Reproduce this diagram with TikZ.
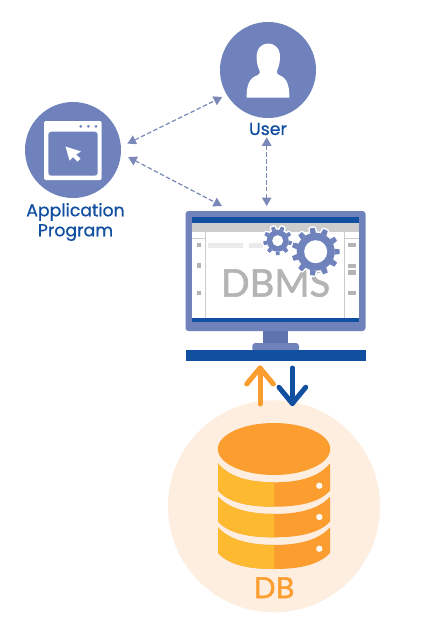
\documentclass[tikz,border=0pt]{standalone}
\usepackage{fontspec}
\setmainfont{Poppins}[FakeBold=0.7]
\newfontfamily\dbfont{Lato}[FakeBold=1.6]
\usetikzlibrary{arrows.meta}
\definecolor{periw}{HTML}{6F82BC}
\definecolor{periwd}{HTML}{5F74AE}
\definecolor{dashc}{HTML}{7A88B8}
\definecolor{navy}{HTML}{114FA0}
\definecolor{peach}{HTML}{FDEEDF}
\definecolor{orangeA}{HTML}{FC9D30}
\definecolor{yellowA}{HTML}{FDB930}
\definecolor{greyA}{HTML}{B4B4B4}
\definecolor{greyB}{HTML}{CCCCCC}
\definecolor{greyC}{HTML}{EBEBEB}
\tikzset{
  x=1pt,y=-1pt,
  disc/.style={circle,fill=periw,minimum size=96pt,inner sep=0pt},
  lbl/.style={font=\fontsize{17.3}{20}\selectfont,text=navy,align=center,inner sep=0pt},
  dashlink/.style={draw=dashc,line width=1.2pt,dash pattern=on 4.5pt off 2.4pt,
    {Triangle[width=9.5pt,length=8.5pt]}-{Triangle[width=9.5pt,length=8.5pt]}},
  bigarrow/.style={line width=5pt,line cap=round,line join=round},
}
% section of the cylinder: top edge, top centre, bottom edge, bottom centre
\newcommand{\cylsec}[4]{%
  \def\cylpath{(218,#1) .. controls (230,#2-4) and (252,#2) .. (274,#2)
    .. controls (296,#2) and (318,#2-4) .. (330,#1) -- (330,#3)
    .. controls (318,#4-3) and (296,#4) .. (274,#4)
    .. controls (252,#4) and (230,#4-3) .. (218,#3) -- cycle}%
  \fill[orangeA] \cylpath;
  \begin{scope}\clip (210,#1-5) rectangle (274,#4+5);\fill[yellowA] \cylpath;\end{scope}
}
\newcommand{\mygear}[7]{% x y rootr outerr teeth hole phase
  \begin{scope}[shift={(#1,#2)}]
    \foreach \k in {1,...,#5}{
      \pgfmathsetmacro{\a}{#7+\k*360/#5}
      \pgfmathsetmacro{\w}{90/#5}
      \filldraw[draw=white,fill=white,line width=3pt,line join=round] (\a-\w*1.1:#3) -- (\a-\w*.7:#4) -- (\a+\w*.7:#4) -- (\a+\w*1.1:#3) -- cycle;
    }
    \fill[white] (0,0) circle (#3+1.5);
    \foreach \k in {1,...,#5}{
      \pgfmathsetmacro{\a}{#7+\k*360/#5}
      \pgfmathsetmacro{\w}{90/#5}
      \fill[periw,line join=round] (\a-\w*1.1:#3) -- (\a-\w*.7:#4) -- (\a+\w*.7:#4) -- (\a+\w*1.1:#3) -- cycle;
    }
    \fill[periw] (0,0) circle (#3);
    \fill[white] (0,0) circle (#6);
  \end{scope}
}
\begin{document}
\begin{tikzpicture}
\useasboundingbox (0,0) rectangle (435,626);
\fill[white] (0,0) rectangle (435,626);

% user
\node[disc] (user) at (268,70) {};
\fill[white] (246.7,97.7) .. controls (246.5,85) and (249,78) .. (258,75)
  .. controls (259.5,74.5) and (260,72.5) .. (259.5,70.5)
  .. controls (257.5,67) and (256.6,61) .. (256.6,57)
  .. controls (256.6,48) and (262,43.5) .. (268.3,43.5)
  .. controls (274.5,43.5) and (280,48) .. (280,57)
  .. controls (280,61) and (279,67) .. (277,70.5)
  .. controls (276.5,72.5) and (277,74.5) .. (279,75)
  .. controls (287,78) and (289.5,85) .. (289.3,97.7) -- cycle;
\node[lbl] (ulabel) at (268,129) {User};

% application
\node[disc] (app) at (73,150) {};
\fill[white,rounded corners=2pt] (44,121) rectangle (101.7,180);
\fill[periw,rounded corners=3pt] (48.3,131.7) rectangle (97.7,175.7);
\foreach \x in {80.7,88.3,96}{\fill[periw] (\x,126.3) circle (1.5);}
\fill[white,line join=round] (65.5,146.5) -- (81,151.5) -- (76,154.5) -- (80.5,158.5) -- (77.5,161.5) -- (73,157) -- (69.5,160.5) -- cycle;
\node[lbl] (alabel) at (75.5,222) {Application\\Program};

% monitor
\node[fill=periw,rounded corners=3pt,minimum width=180pt,minimum height=120pt,inner sep=0pt] (monitor) at (275.5,271) {};
\coordinate (ma) at (222,206);
\coordinate (mb) at (266.7,206);
\fill[periwd] (262.7,331) rectangle (288.3,344);
\fill[periw,rounded corners=3pt] (252.3,343) rectangle (299,352);
\fill[navy] (185.5,350) rectangle (365.7,361);
\fill[white] (192.3,217.3) rectangle (359,322.3);
\fill[navy] (192.3,217.3) rectangle (359,223);
\fill[greyB] (192.3,223) rectangle (359,231.7);
\fill[navy] (192.3,318.3) rectangle (359,322.3);
\draw[greyB,line width=1pt] (205.7,231.7) -- (205.7,318.3) (344,231.7) -- (344,318.3)
  (192.3,238.3) -- (205.7,238.3) (344,238.3) -- (359,238.3);
\foreach \y in {245,265.7,293}{\fill[greyA] (196.7,\y-2.3) rectangle (201.3,\y+2.3);}
\foreach \y in {245,266,272.5,293}{\fill[greyA] (347.7,\y-2.2) rectangle (355.7,\y+2.2);}
\fill[greyC] (208,242.7) rectangle (242.7,247.7);
\fill[greyC] (249,242.7) rectangle (263,247.7);
\node[font=\dbfont\fontsize{38}{40}\selectfont,text=greyA,inner sep=0pt] (dbms) at (275.5,283) {DBMS};
\mygear{277.7}{240.7}{11}{14.5}{9}{5.5}{10}
\mygear{315.7}{251.7}{19}{24}{11}{11.5}{0}

% links
\draw[dashlink,shorten <=7pt,shorten >=5pt] (app.4) -- (user.211);
\draw[dashlink,shorten <=8pt] (app.-4) -- (ma);
\draw[dashlink,shorten <=2pt] (ulabel.south -| mb) -- (mb);

% db
\node[circle,fill=peach,minimum size=212pt,inner sep=0pt] (dbdisc) at (274,506.3) {};
\draw[bigarrow,orangeA] (260,404) -- (260,368);
\draw[bigarrow,orangeA] (246.7,384) -- (260,368) -- (273.3,384);
\draw[bigarrow,navy] (292.3,368) -- (292.3,403.5);
\draw[bigarrow,navy] (279,387.3) -- (292.3,403.5) -- (305.7,387.3);
\cylsec{463.3}{482.3}{490.7}{506.7}
\cylsec{496.7}{514}{521.7}{537.3}
\cylsec{527.3}{545}{553}{569}
\fill[orangeA] (274,449) ellipse [x radius=56.2, y radius=26];
\foreach \y in {485.7,517,548.7}{\fill[peach!40!white] (319.3,\y) circle (3.2);}
\node[font=\dbfont\fontsize{29}{30}\selectfont,text=orangeA,inner sep=0pt] (dblabel) at (274,587.7) {DB};
\end{tikzpicture}
\end{document}
